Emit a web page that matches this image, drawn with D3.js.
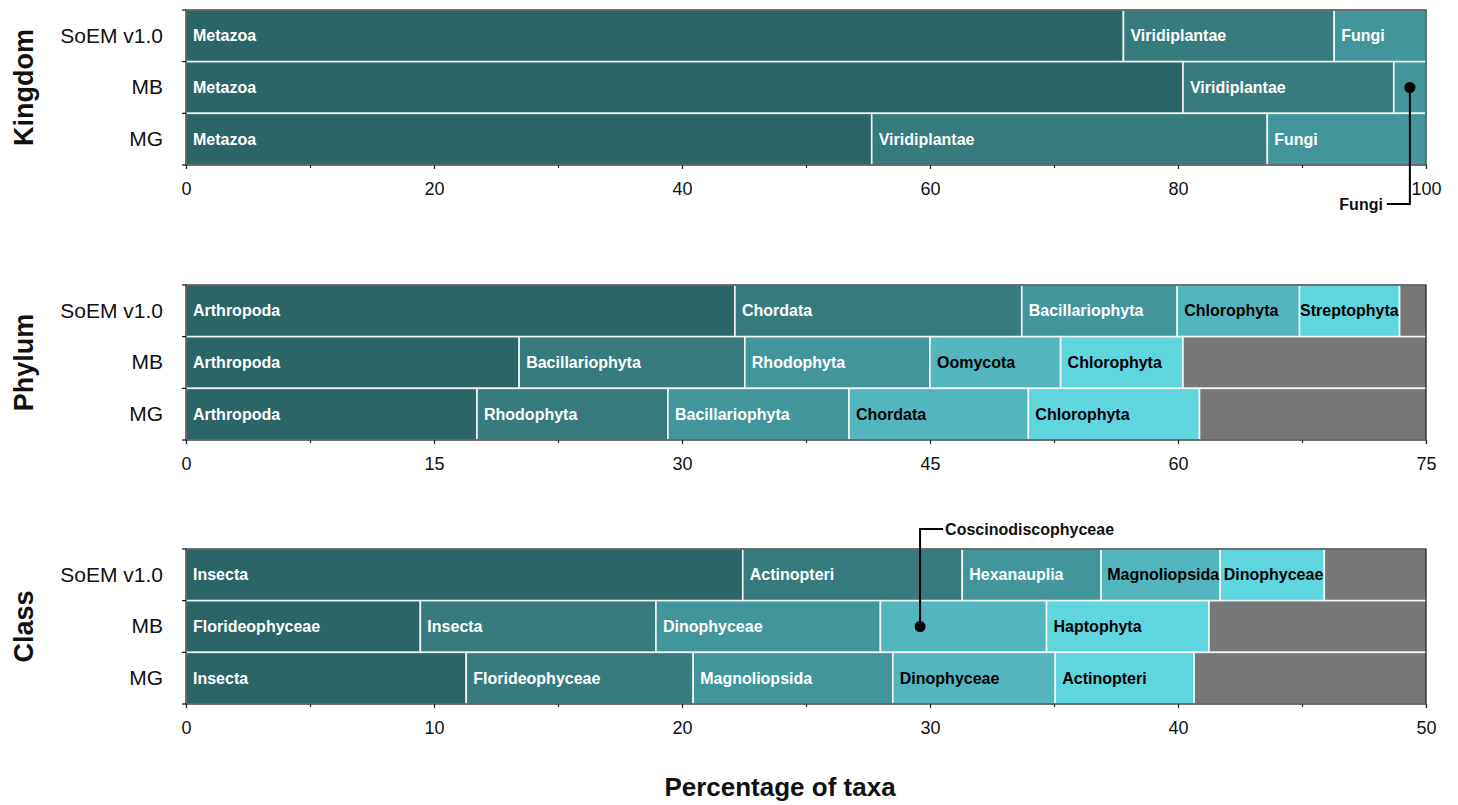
<!DOCTYPE html>
<html>
<head>
<meta charset="utf-8">
<script src="https://cdn.jsdelivr.net/npm/d3@7"></script>
<style>
  html, body { margin: 0; padding: 0; background: #fff; }
  svg { display: block; font-family: "Liberation Sans", Arial, Helvetica, sans-serif; }
</style>
</head>
<body>
<svg id="chart" width="1458" height="805"></svg>
<script>
// Datasets shown as rows in every panel
const datasets = ["SoEM v1.0", "MB", "MG"];

// Kingdom: top taxa per dataset (% of taxa)
const kingdomNames = [
  ["Metazoa", "Viridiplantae", "Fungi"],
  ["Metazoa", "Viridiplantae", "Fungi"],
  ["Metazoa", "Viridiplantae", "Fungi"]
];
const kingdomValues = [
  [75.6, 17.0, 7.4],
  [80.4, 17.0, 2.6],
  [55.3, 31.9, 12.8]
];

// Phylum: five most common phyla per dataset (% of taxa)
const phylumNames = [
  ["Arthropoda", "Chordata", "Bacillariophyta", "Chlorophyta", "Streptophyta"],
  ["Arthropoda", "Bacillariophyta", "Rhodophyta", "Oomycota", "Chlorophyta"],
  ["Arthropoda", "Rhodophyta", "Bacillariophyta", "Chordata", "Chlorophyta"]
];
const phylumValues = [
  [33.2, 17.35, 9.4, 7.4, 6.05],
  [20.15, 13.65, 11.2, 7.9, 7.4],
  [17.6, 11.55, 10.95, 10.85, 10.35]
];

// Class: five most common classes per dataset (% of taxa)
const classNames = [
  ["Insecta", "Actinopteri", "Hexanauplia", "Magnoliopsida", "Dinophyceae"],
  ["Florideophyceae", "Insecta", "Dinophyceae", "Coscinodiscophyceae", "Haptophyta"],
  ["Insecta", "Florideophyceae", "Magnoliopsida", "Dinophyceae", "Actinopteri"]
];
const classValues = [
  [22.45, 8.85, 5.6, 4.8, 4.2],
  [9.45, 9.5, 9.05, 6.7, 6.55],
  [11.3, 9.15, 8.05, 6.55, 5.6]
];

// Axis ranges and ticks per panel
const axisMax = [100, 75, 50];
const majorTicks = [
  [0, 20, 40, 60, 80, 100],
  [0, 15, 30, 45, 60, 75],
  [0, 10, 20, 30, 40, 50]
];
const minorTicks = [
  [10, 30, 50, 70, 90],
  [7.5, 22.5, 37.5, 52.5, 67.5],
  [5, 15, 25, 35, 45]
];
const rankTitles = ["Kingdom", "Phylum", "Class"];

// Segments too narrow for an inline label get a callout: panel, row, segment, anchor value, direction
const callouts = [
  { panel: 0, row: 1, seg: 2, at: 98.7, dir: "down" },
  { panel: 2, row: 1, seg: 3, at: 29.6, dir: "up" }
];

const rankColors = ["#2c6567", "#377b7e", "#42969b", "#53b6bf", "#5fd5de"];
const otherColor = "#777777";
const labelColors = ["#ffffff", "#ffffff", "#ffffff", "#000000", "#000000"];

const svg = d3.select("#chart");
const margin = { left: 186, right: 1426 };
const panelTops = [10, 285, 549];
const panelHeight = 155;

const panels = [
  { names: kingdomNames, values: kingdomValues },
  { names: phylumNames, values: phylumValues },
  { names: classNames, values: classValues }
];

const isCallout = (p, r, s) => callouts.some(c => c.panel === p && c.row === r && c.seg === s);

panels.forEach((panel, p) => {
  const top = panelTops[p];
  const bottom = top + panelHeight;
  const x = d3.scaleLinear().domain([0, axisMax[p]]).range([margin.left, margin.right]);
  const y = d3.scaleBand().domain(datasets).range([top, bottom]).paddingInner(0);

  const g = svg.append("g");
  const clipId = "clip" + p;
  g.append("clipPath").attr("id", clipId)
    .append("rect")
    .attr("x", margin.left).attr("y", top)
    .attr("width", margin.right - margin.left).attr("height", panelHeight);

  const bars = g.append("g").attr("clip-path", `url(#${clipId})`);

  datasets.forEach((ds, r) => {
    const vals = panel.values[r];
    const names = panel.names[r];
    const total = d3.sum(vals);
    const segs = vals.map((v, i) => ({ name: names[i], value: v, idx: i }));
    // remaining taxa, drawn in grey (cut off at the axis end)
    if (total < 100 - 1e-6) segs.push({ name: "", value: 100 - total, idx: -1 });
    let acc = 0;
    segs.forEach(s => { s.x0 = acc; acc += s.value; s.x1 = acc; });

    bars.selectAll(null)
      .data(segs)
      .enter().append("rect")
      .attr("x", d => x(d.x0))
      .attr("y", y(ds))
      .attr("width", d => Math.max(0, x(d.x1) - x(d.x0)))
      .attr("height", y.bandwidth())
      .attr("fill", d => d.idx < 0 ? otherColor : rankColors[d.idx])
      .attr("stroke", "#f4f7f7")
      .attr("stroke-width", 1.6);

    // inline segment labels
    segs.filter(d => d.idx >= 0 && !isCallout(p, r, d.idx)).forEach(d => {
      const t = bars.append("text")
        .attr("y", y(ds) + y.bandwidth() / 2)
        .attr("dy", "0.35em")
        .attr("font-size", 16)
        .attr("font-weight", "bold")
        .attr("fill", labelColors[d.idx])
        .text(d.name);
      const segW = x(d.x1) - x(d.x0);
      const tw = t.node().getComputedTextLength();
      const pad = Math.max(0.5, Math.min(7, segW - tw - 1));
      t.attr("x", x(d.x0) + pad);
    });
  });

  // plot frame
  g.append("rect")
    .attr("x", margin.left).attr("y", top)
    .attr("width", margin.right - margin.left).attr("height", panelHeight)
    .attr("fill", "none").attr("stroke", "#2a2a2a").attr("stroke-width", 1.3);

  // x axis: major ticks with labels
  const xAxis = d3.axisBottom(x).tickValues(majorTicks[p]).tickSize(4).tickPadding(10)
    .tickFormat(d3.format("d"));
  const ax = g.append("g").attr("transform", `translate(0,${bottom})`).call(xAxis);
  ax.select(".domain").remove();
  ax.selectAll(".tick line").attr("stroke", "#222").attr("stroke-width", 1.3);
  ax.selectAll(".tick text")
    .attr("font-size", 18).attr("fill", "#111")
    .attr("font-family", "Liberation Sans, Arial, sans-serif")
    .attr("dy", "0.9em");

  // x axis: minor ticks
  const axMinor = g.append("g").attr("transform", `translate(0,${bottom})`)
    .call(d3.axisBottom(x).tickValues(minorTicks[p]).tickSize(3).tickFormat(""));
  axMinor.select(".domain").remove();
  axMinor.selectAll(".tick line").attr("stroke", "#222").attr("stroke-width", 1.2);

  // y axis: dataset labels at band centres
  const ay = g.append("g").attr("transform", `translate(${margin.left},0)`)
    .call(d3.axisLeft(y).tickSize(0).tickPadding(23));
  ay.select(".domain").remove();
  ay.selectAll(".tick text")
    .attr("font-size", 21).attr("fill", "#111")
    .attr("font-family", "Liberation Sans, Arial, sans-serif");

  // y axis: small ticks at row boundaries
  const bounds = datasets.map(d => y(d)).concat([bottom]);
  g.selectAll(null).data(bounds).enter().append("line")
    .attr("x1", margin.left - 4).attr("x2", margin.left)
    .attr("y1", d => d).attr("y2", d => d)
    .attr("stroke", "#222").attr("stroke-width", 1.3);

  // rank title
  g.append("text")
    .attr("transform", `translate(33,${(top + bottom) / 2}) rotate(-90)`)
    .attr("text-anchor", "middle")
    .attr("font-size", 27).attr("font-weight", "bold").attr("fill", "#111")
    .text(rankTitles[p]);

  // callouts for narrow segments
  callouts.filter(c => c.panel === p).forEach(c => {
    const ds = datasets[c.row];
    const cx = x(c.at);
    const cy = y(ds) + y.bandwidth() / 2;
    const name = panel.names[c.row][c.seg];
    const cg = svg.append("g");
    if (c.dir === "down") {
      const yEnd = bottom + 39;
      cg.append("path")
        .attr("d", `M${cx},${cy} V${yEnd} H${cx - 23}`)
        .attr("fill", "none").attr("stroke", "#000").attr("stroke-width", 2);
      cg.append("text")
        .attr("x", cx - 27).attr("y", yEnd).attr("dy", "0.35em")
        .attr("text-anchor", "end")
        .attr("font-size", 16).attr("font-weight", "bold").attr("fill", "#111")
        .text(name);
    } else {
      const yEnd = top - 20;
      cg.append("path")
        .attr("d", `M${cx},${cy} V${yEnd} H${cx + 23}`)
        .attr("fill", "none").attr("stroke", "#000").attr("stroke-width", 2);
      cg.append("text")
        .attr("x", cx + 25).attr("y", yEnd).attr("dy", "0.35em")
        .attr("font-size", 16).attr("font-weight", "bold").attr("fill", "#111")
        .text(name);
    }
    cg.append("circle").attr("cx", cx).attr("cy", cy).attr("r", 5.5).attr("fill", "#000");
  });
});

// shared x axis title
svg.append("text")
  .attr("x", 780).attr("y", 796)
  .attr("text-anchor", "middle")
  .attr("font-size", 26).attr("font-weight", "bold").attr("fill", "#111")
  .text("Percentage of taxa");
</script>
</body>
</html>
